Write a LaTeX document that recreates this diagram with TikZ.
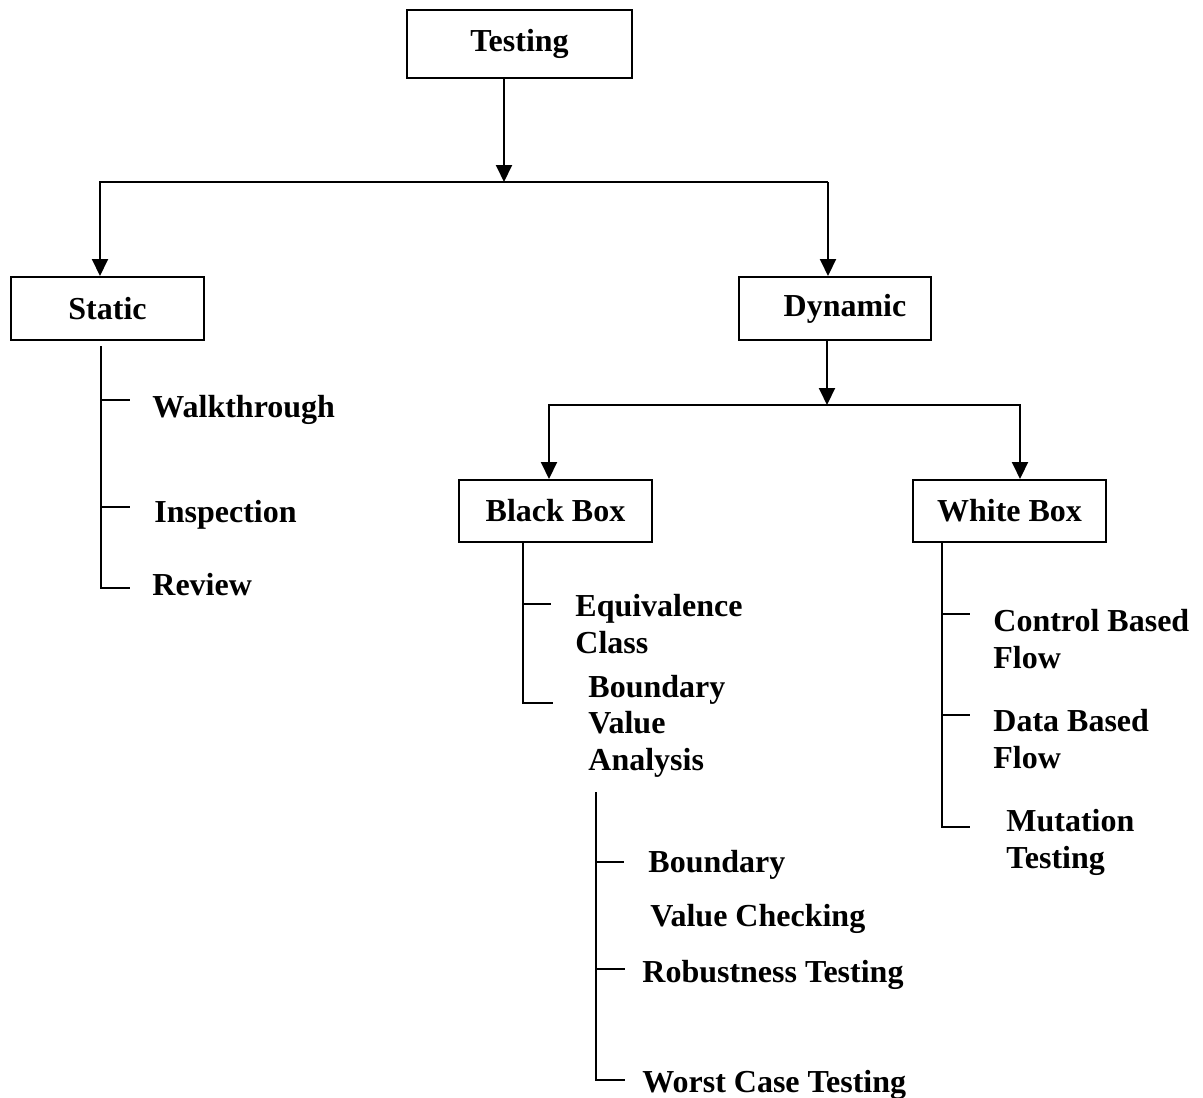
\documentclass[tikz,border=0pt]{standalone}
\usepackage{fontspec}
\setmainfont{Liberation Serif}
\usetikzlibrary{arrows.meta}

\tikzset{
	every node/.style={font=\fontsize{16pt}{18.25pt}\selectfont\bfseries},
	box/.style={draw, line width=1pt, minimum width=96.5pt, minimum height=31.5pt, inner sep=0pt},
	leaf/.style={anchor=base west, inner sep=0pt, align=left},
	link/.style={line width=1pt},
	arr/.style={link, -{Triangle[width=8pt,length=8.5pt]}},
	tick/.style={link, shorten >=#1},
	tick/.default=11pt
}

\begin{document}
\begin{tikzpicture}[x=0.5pt, y=-0.5pt]
		\useasboundingbox (0,0) rectangle (1203,1097);

		% boxes
		\node [box, minimum width=112.5pt, minimum height=34pt] (testing) at (519.5,44) {Testing};
		\node [box] (static)	at (107.5,308.5)	{Static};
		\node [box, minimum width=96pt] (dynamic)	at (835,308.5)	{\hspace{10pt}Dynamic};
		\node [box, minimum height=31pt] (blackbox)	at (555.5,511)	{Black Box\hspace{5pt}};
		\node [box, minimum height=31pt] (whitebox)	at (1009.5,511)	{White Box};

		% leaves (base = last line)
		\node [leaf] (walk)		at (152,417)	{Walkthrough};
		\node [leaf] (insp)		at (154,522)	{Inspection};
		\node [leaf] (review)	at (152,595)	{Review};

		\node [leaf] (equiv)	at (575,653)	{Equivalence\\Class};
		\node [leaf] (bva)		at (588,770)	{Boundary\\Value\\Analysis};
		\node [leaf] (bvcA)		at (648,872)	{Boundary};
		\node [leaf] (bvcB)		at (650,926)	{Value Checking};
		\node [leaf] (robust)	at (642,982)	{Robustness Testing};
		\node [leaf] (worst)	at (642,1092)	{Worst Case Testing};

		\node [leaf] (control)	at (993,668)	{Control Based\\Flow};
		\node [leaf] (data)		at (993,768)	{Data Based\\Flow};
		\node [leaf] (mutation)	at (1006,868)	{Mutation\\Testing};

		% arrows
		\coordinate (top)	at (504,182);
		\coordinate (topL)	at (100,182);
		\coordinate (topR)	at (828,182);
		\draw [arr] (top |- testing.south) to (top);
		\draw [arr] (topR) to (topL) to (topL |- static.north);
		\draw [arr] (topR) to (topR |- dynamic.north);

		\coordinate (mid)	at (827,405);
		\coordinate (midL)	at (549,405);
		\coordinate (midR)	at (1020,405);
		\draw [arr] (mid |- dynamic.south) to (mid);
		\draw [arr] (midR) to (midL) to (midL |- blackbox.north);
		\draw [arr] (midL) to (midR) to (midR |- whitebox.north);

		% static
		\coordinate (s1) at (101,400);
		\coordinate (s2) at (101,507);
		\coordinate (s3) at (101,588);
		\draw [link, shorten <=2.5pt, shorten >=11pt] (static.south -| s3) to (s3) to (s3 -| review.west);
		\draw [tick] (s1) to (s1 -| walk.west);
		\draw [tick=12pt] (s2) to (s2 -| insp.west);

		% black box
		\coordinate (b1) at (523,604);
		\coordinate (b2) at (523,703);
		\draw [link, shorten >=17.5pt] (blackbox.south -| b2) to (b2) to (b2 -| bva.west);
		\draw [tick=12pt] (b1) to (b1 -| equiv.west);

		\coordinate (v1) at (596,862);
		\coordinate (v2) at (596,969);
		\coordinate (v3) at (596,1080);
		\draw [link, shorten <=7.5pt, shorten >=8.5pt] (bva.south -| v3) to (v3) to (v3 -| worst.west);
		\draw [tick=12pt] (v1) to (v1 -| bvcA.west);
		\draw [tick=8.5pt] (v2) to (v2 -| robust.west);

		% white box
		\coordinate (w1) at (942,614);
		\coordinate (w2) at (942,715);
		\coordinate (w3) at (942,827);
		\draw [link, shorten >=18pt] (whitebox.south -| w3) to (w3) to (w3 -| mutation.west);
		\draw [tick=11.5pt] (w1) to (w1 -| control.west);
		\draw [tick=11.5pt] (w2) to (w2 -| data.west);
	\end{tikzpicture}
\end{document}
